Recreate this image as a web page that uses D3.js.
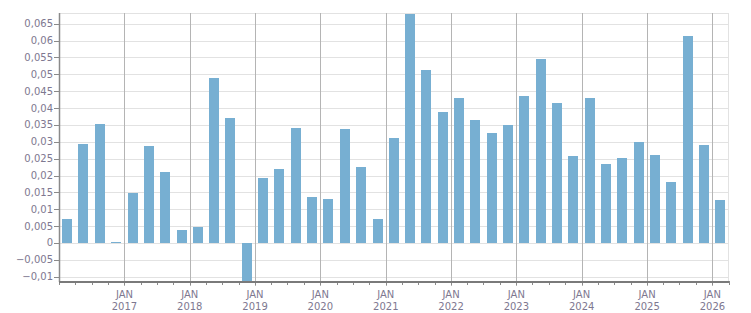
<!DOCTYPE html>
<html><head><meta charset="utf-8">
<script src="https://cdn.jsdelivr.net/npm/d3@7"></script>
<style>
html,body{margin:0;padding:0;background:#fff;}
svg text{font-family:"DejaVu Sans",Verdana,sans-serif;font-size:10px;fill:#7e7890;}
</style></head>
<body><svg id="c" width="751" height="313"></svg>
<script>
const quarters = ["2016Q1","2016Q2","2016Q3","2016Q4","2017Q1","2017Q2","2017Q3","2017Q4","2018Q1","2018Q2","2018Q3","2018Q4","2019Q1","2019Q2","2019Q3","2019Q4","2020Q1","2020Q2","2020Q3","2020Q4","2021Q1","2021Q2","2021Q3","2021Q4","2022Q1","2022Q2","2022Q3","2022Q4","2023Q1","2023Q2","2023Q3","2023Q4","2024Q1","2024Q2","2024Q3","2024Q4","2025Q1","2025Q2","2025Q3","2025Q4","2026Q1"];
const values = [0.0071,0.0294,0.0353,0.0004,0.0148,0.0288,0.0211,0.0039,0.0047,0.0489,0.0371,-0.0125,0.0193,0.0219,0.0341,0.0136,0.0130,0.0338,0.0225,0.0071,0.0311,0.0679,0.0513,0.0388,0.0430,0.0365,0.0326,0.0350,0.0436,0.0545,0.0415,0.0258,0.0430,0.0234,0.0252,0.0299,0.0261,0.0181,0.0614,0.0291,0.0128];
const yTicks = [-0.01,-0.005,0,0.005,0.01,0.015,0.02,0.025,0.03,0.035,0.04,0.045,0.05,0.055,0.06,0.065];
const yearLabels = ["2017","2018","2019","2020","2021","2022","2023","2024","2025","2026"];
const monthLabel = "JAN";

const L=59, R=728.5, T=13, B=281;
const svg=d3.select("#c");
const x=d3.scaleTime().domain([new Date(2016,0,1),new Date(2026,3,1)]).range([L,R]);
const y=d3.scaleLinear().domain([-0.01127,0.06817]).range([B,T]);
const qStart=q=>new Date(+q.slice(0,4),(+q.slice(5)-1)*3,1);
const qEnd=q=>d3.timeMonth.offset(qStart(q),3);
const fmt=v=>d3.format("")(+v.toFixed(3)).replace(".",",");

// horizontal grid
svg.append("g").selectAll("line").data(yTicks).join("line")
  .attr("x1",L).attr("x2",R).attr("y1",d=>Math.round(y(d))+0.5).attr("y2",d=>Math.round(y(d))+0.5)
  .attr("stroke","#e2e2e2").attr("stroke-width",1);
// top & right border
svg.append("line").attr("x1",L).attr("x2",R).attr("y1",T+0.5).attr("y2",T+0.5).attr("stroke","#e2e2e2");
svg.append("line").attr("x1",R).attr("x2",R).attr("y1",T).attr("y2",B).attr("stroke","#e2e2e2");

// year grid
const years=yearLabels.map(s=>new Date(+s,0,1));
svg.append("g").selectAll("line").data(years).join("line")
  .attr("x1",d=>Math.round(x(d))+0.5).attr("x2",d=>Math.round(x(d))+0.5).attr("y1",T).attr("y2",B+5)
  .attr("stroke","#b4b4b4").attr("stroke-width",1);

// bars
svg.append("clipPath").attr("id","cp").append("rect").attr("x",L).attr("y",T).attr("width",R-L).attr("height",B-T);
const bw=10;
svg.append("g").attr("clip-path","url(#cp)").selectAll("rect").data(quarters).join("rect")
  .attr("x",(q)=>{const m=(x(qStart(q))+x(qEnd(q)))/2; return Math.round(m-bw/2);})
  .attr("width",bw)
  .attr("y",(q,i)=>Math.round(y(Math.max(0,values[i]))))
  .attr("height",(q,i)=>Math.max(0,Math.round(Math.abs(y(values[i])-y(0)))))
  .attr("fill","#77afd2");

// minor quarter ticks
const qTicks=d3.timeMonth.every(3).range(new Date(2016,0,1),new Date(2026,3,2));
svg.append("g").selectAll("line").data(qTicks).join("line")
  .attr("x1",d=>Math.round(x(d))+0.5).attr("x2",d=>Math.round(x(d))+0.5).attr("y1",B).attr("y2",B+4)
  .attr("stroke","#8a8a8a");

// axes lines
svg.append("line").attr("x1",L+0.5).attr("x2",L+0.5).attr("y1",T).attr("y2",B+1).attr("stroke","#8a8a8a").attr("stroke-width",1.5);
svg.append("line").attr("x1",L).attr("x2",R+0.5).attr("y1",B+1).attr("y2",B+1).attr("stroke","#7a7a7a").attr("stroke-width",2);

// y ticks and labels
const yg=svg.append("g");
yg.selectAll("line").data(yTicks).join("line")
  .attr("x1",L-5).attr("x2",L).attr("y1",d=>Math.round(y(d))+0.5).attr("y2",d=>Math.round(y(d))+0.5)
  .attr("stroke","#8a8a8a");
yg.selectAll("text").data(yTicks).join("text")
  .attr("x",L-6).attr("y",d=>y(d)).attr("dy","0.35em").attr("text-anchor","end")
  .text(d=>fmt(d));

// x labels
const xg=svg.append("g");
xg.selectAll("text.m").data(years).join("text").attr("class","m")
  .attr("x",d=>x(d)).attr("y",298).attr("text-anchor","middle").text(monthLabel);
xg.selectAll("text.yr").data(yearLabels).join("text").attr("class","yr")
  .attr("x",(d,i)=>x(years[i])).attr("y",310).attr("text-anchor","middle").text(d=>d);
</script></body></html>
